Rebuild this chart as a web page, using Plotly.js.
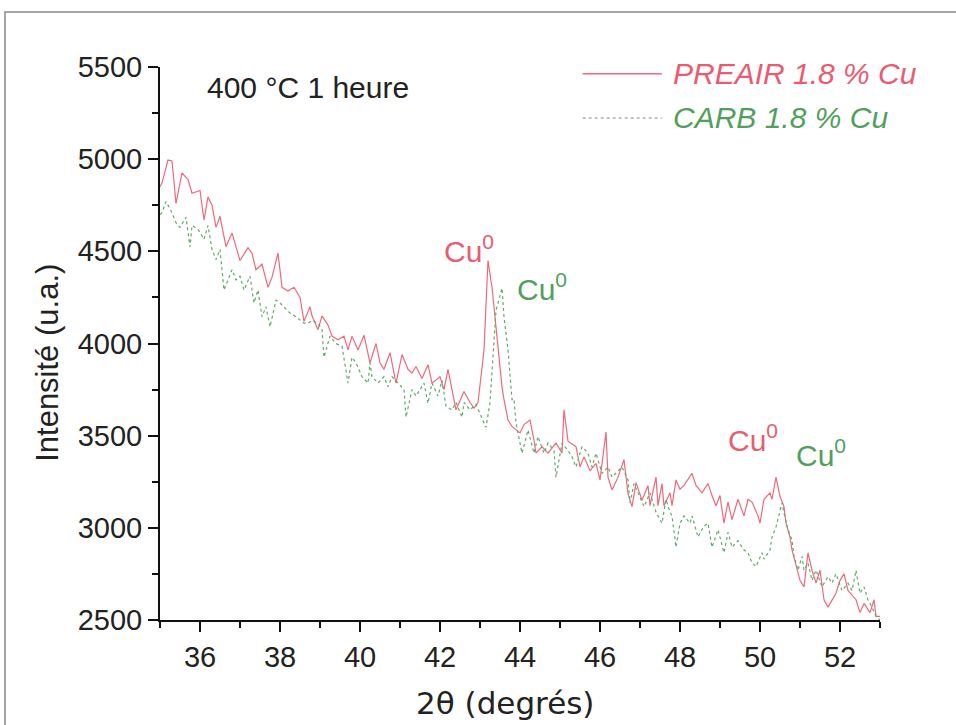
<!DOCTYPE html>
<html>
<head>
<meta charset="utf-8">
<script src="https://cdn.plot.ly/plotly-3.0.1.min.js"></script>
<style>
html,body{margin:0;padding:0;background:#fff;}
#chart{width:956px;height:725px;}
</style>
</head>
<body>
<div id="chart"></div>
<script>
// PREAIR 1.8 % Cu (red)
const preairX = [35.0,35.05,35.2,35.3,35.4,35.55,35.7,35.8,36.0,36.1,36.2,36.3,36.4,36.5,36.65,36.8,37.0,37.2,37.3,37.4,37.55,37.7,37.8,37.95,38.05,38.2,38.35,38.5,38.6,38.75,38.8,38.95,39.05,39.2,39.3,39.45,39.6,39.7,39.8,39.95,40.1,40.25,40.4,40.5,40.6,40.75,40.9,41.05,41.2,41.3,41.4,41.55,41.7,41.8,42.0,42.1,42.2,42.4,42.6,42.75,42.85,42.95,43.1,43.2,43.3,43.45,43.55,43.6,43.7,43.8,44.0,44.1,44.25,44.35,44.4,44.55,44.7,44.9,45.05,45.1,45.2,45.4,45.5,45.6,45.75,45.9,46.0,46.15,46.2,46.3,46.45,46.6,46.7,46.8,46.9,47.05,47.2,47.25,47.4,47.45,47.55,47.6,47.75,47.8,47.9,48.0,48.1,48.3,48.4,48.55,48.7,48.8,48.9,49.0,49.1,49.2,49.3,49.45,49.6,49.7,49.8,49.95,50.0,50.1,50.25,50.3,50.4,50.5,50.6,50.65,50.75,50.8,50.9,51.0,51.1,51.2,51.3,51.4,51.5,51.6,51.7,51.9,52.0,52.1,52.2,52.4,52.5,52.6,52.75,52.85,52.9,53.0];
const preairY = [4850,4870,4995,4990,4760,4925,4890,4815,4830,4670,4795,4750,4630,4690,4525,4600,4450,4520,4490,4400,4430,4305,4360,4490,4305,4285,4305,4250,4120,4200,4150,4075,4150,4100,4040,4020,4040,3965,4040,3965,4045,3895,4000,3895,3860,3950,3785,3940,3860,3840,3875,3810,3885,3785,3820,3750,3860,3640,3740,3680,3650,3680,3965,4450,4305,3965,3765,3695,3585,3550,3515,3560,3585,3475,3405,3440,3405,3460,3405,3640,3470,3440,3330,3385,3310,3350,3260,3520,3275,3205,3275,3370,3185,3115,3245,3150,3230,3120,3275,3120,3240,3120,3190,3120,3260,3210,3230,3295,3230,3190,3240,3175,3120,3175,3025,3140,3045,3155,3065,3155,3140,3065,3025,3155,3190,3155,3275,3170,3115,3025,2950,2880,2790,2715,2680,2865,2770,2700,2770,2610,2570,2645,2715,2750,2660,2610,2540,2590,2540,2610,2520,2520];

// CARB 1.8 % Cu (green)
const carbX = [35.0,35.05,35.15,35.3,35.4,35.5,35.65,35.75,35.8,35.95,36.1,36.2,36.3,36.4,36.5,36.6,36.7,36.8,36.9,37.0,37.1,37.25,37.35,37.45,37.55,37.65,37.75,37.9,38.0,38.1,38.25,38.4,38.6,38.7,38.8,38.95,39.05,39.1,39.25,39.4,39.55,39.7,39.8,39.9,40.05,40.2,40.25,40.3,40.45,40.6,40.7,40.8,40.95,41.1,41.15,41.3,41.4,41.6,41.7,41.8,41.95,42.05,42.15,42.3,42.4,42.55,42.6,42.75,42.9,43.0,43.15,43.25,43.4,43.55,43.6,43.7,43.8,43.85,43.9,44.05,44.2,44.35,44.45,44.6,44.7,44.85,44.9,45.05,45.2,45.3,45.4,45.55,45.7,45.8,45.9,46.05,46.2,46.3,46.45,46.55,46.7,46.75,46.85,46.95,47.1,47.25,47.4,47.55,47.65,47.75,47.8,47.9,48.0,48.1,48.25,48.3,48.45,48.6,48.7,48.8,48.95,49.1,49.2,49.3,49.45,49.6,49.7,49.8,49.9,50.05,50.1,50.25,50.3,50.4,50.55,50.6,50.7,50.8,50.85,50.95,51.05,51.1,51.2,51.3,51.4,51.55,51.7,51.8,51.9,52.05,52.2,52.3,52.4,52.5,52.6,52.7,52.8,52.9,53.0];
const carbY = [4700,4710,4770,4710,4655,4630,4685,4525,4640,4620,4565,4640,4510,4455,4510,4290,4345,4400,4345,4365,4290,4365,4220,4290,4145,4200,4090,4235,4220,4200,4165,4145,4110,4110,4125,4110,4075,3925,4040,4000,3985,3785,3925,3895,3820,3785,3895,3820,3785,3820,3765,3820,3785,3750,3600,3750,3715,3785,3675,3785,3715,3800,3660,3640,3680,3600,3680,3640,3670,3620,3545,3680,4180,4300,4145,3965,3695,3700,3570,3405,3530,3405,3495,3405,3460,3420,3275,3460,3420,3385,3330,3440,3405,3330,3405,3295,3330,3275,3310,3330,3260,3135,3240,3190,3115,3190,3085,3025,3155,3085,3065,2895,3025,3065,3025,3065,2950,3010,3025,2895,2990,2865,2975,2895,2930,2880,2865,2810,2790,2865,2830,2880,2950,3005,3135,3080,2990,2935,2845,2770,2845,2770,2810,2715,2770,2680,2735,2700,2750,2660,2700,2660,2770,2645,2680,2610,2570,2520,2500];

const seriesNames = ["PREAIR 1.8 % Cu", "CARB 1.8 % Cu"];
const xTickVals = [36,38,40,42,44,46,48,50,52];
const yTickVals = [2500,3000,3500,4000,4500,5000,5500];
const peakLabels = [
  {x:43.2, y:4450, text:"Cu<sup>0</sup>", s:0},
  {x:43.55, y:4300, text:"Cu<sup>0</sup>", s:1},
  {x:50.4, y:3275, text:"Cu<sup>0</sup>", s:0},
  {x:50.55, y:3135, text:"Cu<sup>0</sup>", s:1}
];

const RED = "rgb(238,105,125)";
const GREEN = "rgb(95,170,105)";
const RED_T = "rgb(235,90,112)";
const GREEN_T = "rgb(80,160,92)";
const FONT = "Liberation Sans, Arial, sans-serif";

const traces = [
  {x: preairX, y: preairY, type:"scatter", mode:"lines", name: seriesNames[0],
   line:{color:RED, width:1.2}, showlegend:false},
  {x: carbX, y: carbY, type:"scatter", mode:"lines", name: seriesNames[1],
   line:{color:GREEN, width:1.2, dash:"dot"}, showlegend:false}
];

const annotations = [
  {xref:"paper", yref:"paper", x:0.0625, y:0.963, xanchor:"left", yanchor:"middle",
   text:"400 °C 1 heure", showarrow:false, font:{family:FONT, size:30, color:"#222"}},
  {xref:"paper", yref:"paper", x:0.71, y:0.988, xanchor:"left", yanchor:"middle",
   text:seriesNames[0], showarrow:false, font:{family:FONT, size:30, color:RED_T, style:"italic"}},
  {xref:"paper", yref:"paper", x:0.71, y:0.908, xanchor:"left", yanchor:"middle",
   text:seriesNames[1], showarrow:false, font:{family:FONT, size:30, color:GREEN_T, style:"italic"}},
  // axis titles
  {xref:"paper", yref:"paper", x:0.479, y:-0.150, xanchor:"center", yanchor:"middle",
   text:"2θ (degrés)", showarrow:false, font:{family:"DejaVu Sans, sans-serif", size:31, color:"#222"}},
  {xref:"paper", yref:"paper", x:-0.1556, y:0.465, xanchor:"center", yanchor:"middle", textangle:-90,
   text:"Intensité (u.a.)", showarrow:false, font:{family:FONT, size:31, color:"#222"}}
];
const labelOffsets = [[-19,12],[40,1],[-23,39],[39,50]];
peakLabels.forEach((p,i)=>{
  annotations.push({x:p.x, y:p.y, xref:"x", yref:"y", text:p.text, showarrow:false,
    xanchor:"center", yanchor:"middle",
    xshift:labelOffsets[i][0], yshift:labelOffsets[i][1],
    font:{family:FONT, size:30, color: p.s===0 ? RED_T : GREEN_T}});
});

const layout = {
  width:956, height:725,
  margin:{l:160, r:76, t:67, b:105},
  paper_bgcolor:"#fff", plot_bgcolor:"#fff",
  showlegend:false,
  xaxis:{range:[35,53], tickvals:xTickVals, ticks:"outside", ticklen:10, tickwidth:2, tickcolor:"#111",
    showline:true, linecolor:"#111", linewidth:2, showgrid:false, zeroline:false,
    minor:{dtick:1, tick0:35, ticks:"outside", ticklen:6, tickwidth:2, tickcolor:"#111", showgrid:false},
    tickfont:{family:FONT, size:29, color:"#222"}},
  yaxis:{range:[2500,5500], tickvals:yTickVals, ticks:"outside", ticklen:10, tickwidth:2, tickcolor:"#111",
    showline:true, linecolor:"#111", linewidth:2, showgrid:false, zeroline:false,
    minor:{dtick:250, ticks:"outside", ticklen:6, tickwidth:2, tickcolor:"#111", showgrid:false},
    tickfont:{family:FONT, size:29, color:"#222"}},
  annotations: annotations,
  shapes:[
    {type:"line", xref:"paper", yref:"paper", x0:0.587, x1:0.697, y0:0.988, y1:0.988, line:{color:RED, width:1.5}},
    {type:"line", xref:"paper", yref:"paper", x0:0.587, x1:0.697, y0:0.908, y1:0.908, line:{color:"rgb(180,170,175)", width:1.5, dash:"dot"}},
    {type:"rect", xref:"paper", yref:"paper", x0:-0.2153, x1:1.2, y0:-0.3, y1:1.0995, line:{color:"#888", width:1.5}, layer:"below"}
  ]
};

Plotly.newPlot("chart", traces, layout, {displayModeBar:false, staticPlot:true});
</script>
</body>
</html>
